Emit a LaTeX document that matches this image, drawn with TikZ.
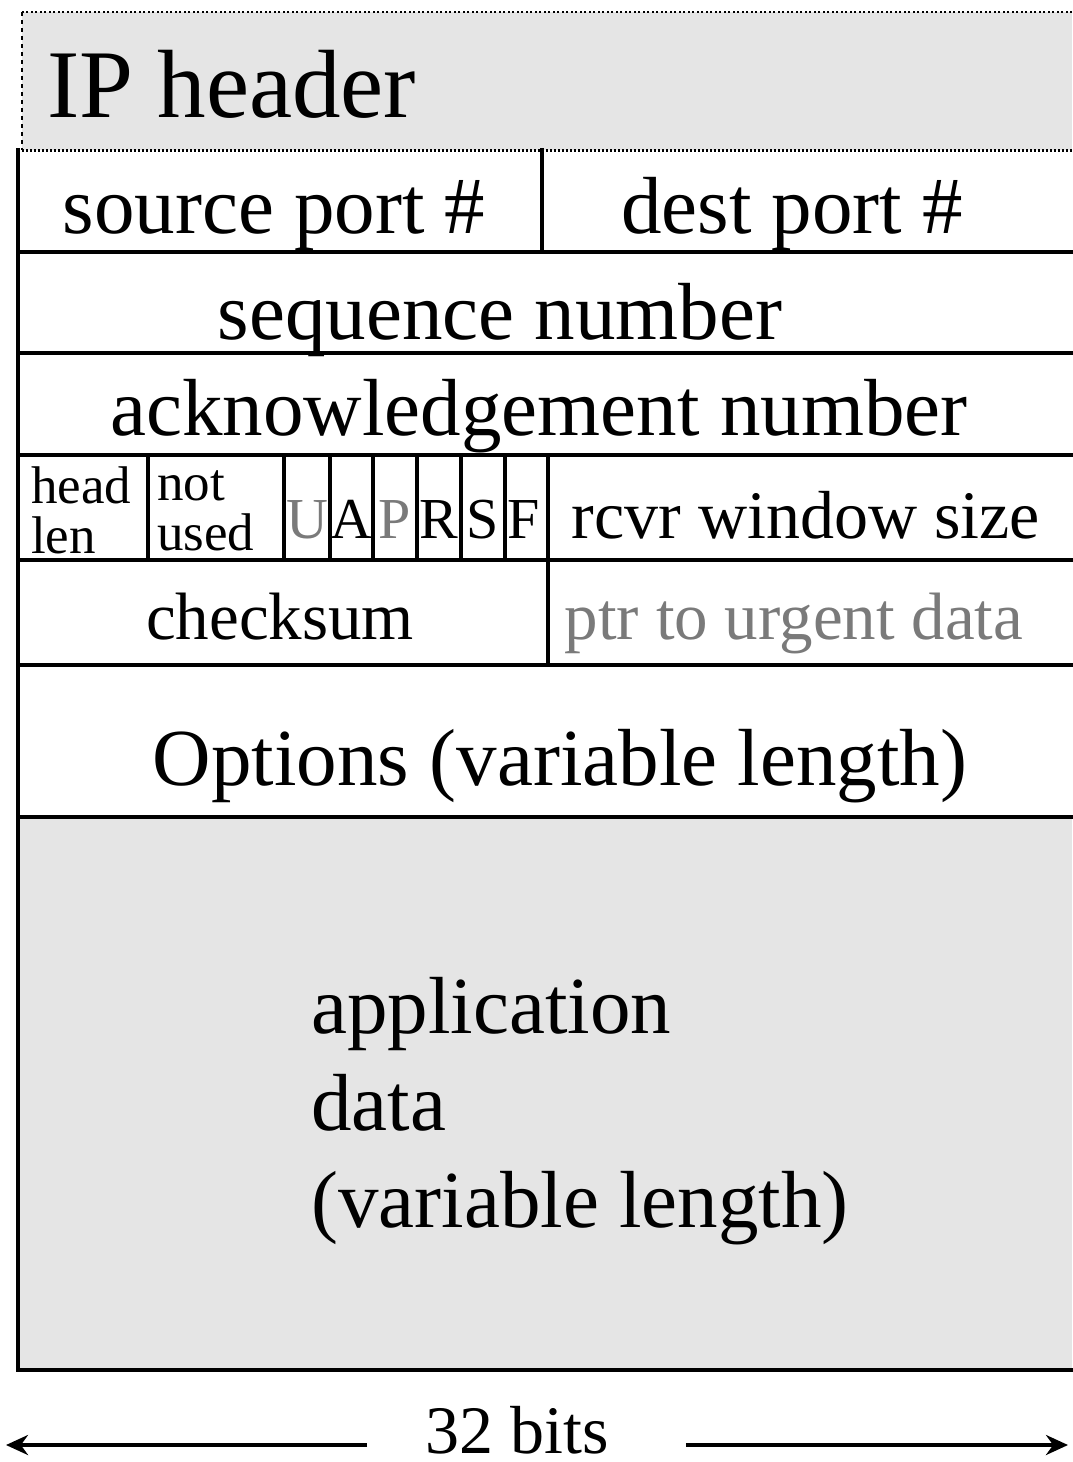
\documentclass[tikz,border=0pt]{standalone}
\usepackage{fontspec}
\setmainfont{Liberation Serif}
\usetikzlibrary{arrows.meta}

\definecolor{panelgray}{HTML}{E5E5E5}
\definecolor{fadedtext}{HTML}{7A7A7A}

\begin{document}
\begin{tikzpicture}[x=1pt, y=-1pt,
  rule/.style={line width=3.6pt, line cap=rect},
  dotrule/.style={line width=3pt, dash pattern=on 2pt off 2pt},
  bigtxt/.style={inner sep=0pt, anchor=base, font=\fontsize{81}{95}\selectfont},
  midtxt/.style={inner sep=0pt, anchor=base, font=\fontsize{67}{80}\selectfont},
  flagtxt/.style={inner sep=0pt, anchor=base, font=\fontsize{58}{60}\selectfont},
  smalltxt/.style={inner sep=0pt, anchor=base west, align=left,
                   font=\fontsize{53}{50}\selectfont},
  faded/.style={text=fadedtext},
  widthtip/.style={-{Stealth[length=22pt, width=20pt]}, line width=3.6pt}]

\useasboundingbox (0,0) rectangle (1072,1462);

% shaded IP header above the segment, with dotted outline
\fill[panelgray] (22,12) rectangle (1072,150);
\draw[line width=2.6pt, dash pattern=on 2pt off 2.5pt] (1072,12) -- (22,12);
\draw[line width=2.6pt, dash pattern=on 4pt off 4pt] (22,12) -- (22,150);
\node[inner sep=0pt, anchor=base west, font=\fontsize{97}{100}\selectfont]
  (iphdr) at (47,117) {IP header};

% shaded payload area
\fill[panelgray] (18,817) rectangle (1072,1370);

% horizontal row boundaries
\draw[dotrule] (18,150) -- (1072,150);
\foreach \yy in {252,353,455,560,665,817,1370}
  \draw[rule] (18,\yy) -- (1072,\yy);
% left edge of the segment
\draw[rule] (18,150) -- (18,1370);

% field dividers
\draw[rule] (542,150) -- (542,252);
\foreach \xx in {148,284,330,373,417,461,505,548}
  \draw[rule] (\xx,455) -- (\xx,560);
\draw[rule] (548,560) -- (548,665);

% row 1: ports
\node[bigtxt] (srcport) at (274,233) {source port \#};
\node[bigtxt] (dstport) at (792,233) {dest port \#};

% rows 2 and 3
\node[bigtxt] (seqnum) at (500,339) {sequence number};
\node[bigtxt] (acknum) at (539,435) {acknowledgement number};

% row 4: header length, unused bits, flags, window
% (base of a two-line node is the baseline of its last line)
\node[smalltxt] (hlen) at (31,553) {head\\len};
\node[smalltxt] (unused) at (157,550) {not\\used};
\node[flagtxt, faded] (fU) at (307,538) {U};
\node[flagtxt] (fA) at (351.5,538) {A};
\node[flagtxt, faded] (fP) at (395,538) {P};
\node[flagtxt] (fR) at (439,538) {R};
\node[flagtxt] (fS) at (483,538) {S};
\node[flagtxt] (fF) at (524,538) {F};
\node[midtxt, font=\fontsize{68}{80}\selectfont] (rwnd) at (806,538) {rcvr window size};

% row 5: checksum and urgent pointer
\node[midtxt] (cksum) at (280,639) {checksum};
\node[midtxt, faded] (urgptr) at (794,639) {ptr to urgent data};

% row 6: options
\node[bigtxt] (opts) at (560,785) {Options (variable length)};

% payload text
\node[inner sep=0pt, anchor=base west, align=left,
      font=\fontsize{81}{97}\selectfont] (appdata) at (311,1227)
  {application\\data\\(variable length)};

% width of the segment
\node[inner sep=0pt, anchor=base, font=\fontsize{68}{70}\selectfont]
  (width) at (517,1453) {32 bits};
\coordinate (leftend) at (6,1445);
\coordinate (rightend) at (1068,1445);
\draw[widthtip] ([xshift=-58pt]width.west |- 0,1445) -- (leftend);
\draw[widthtip] ([xshift=77pt]width.east |- 0,1445) -- (rightend);

\end{tikzpicture}
\end{document}
